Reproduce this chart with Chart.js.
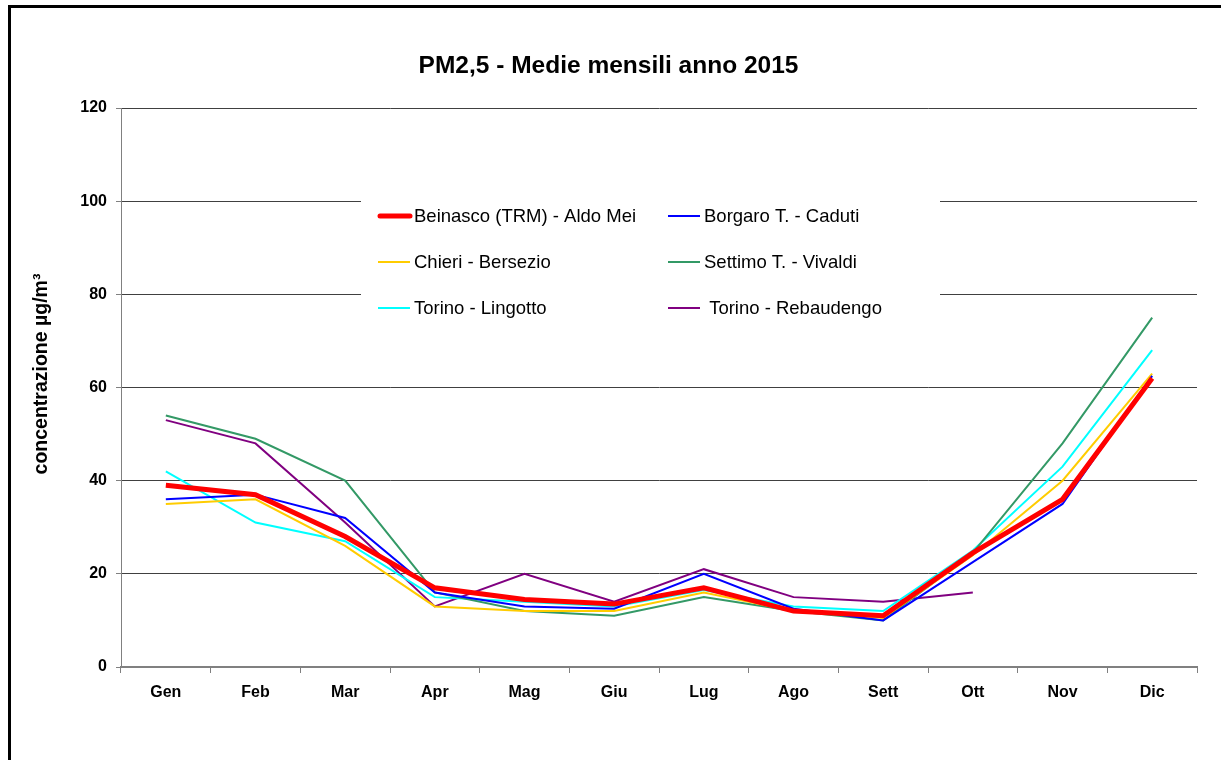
<!DOCTYPE html>
<html>
<head>
<meta charset="utf-8">
<script src="https://cdn.jsdelivr.net/npm/chart.js@4/dist/chart.umd.min.js"></script>
<style>
  html, body { margin: 0; padding: 0; background: #fff; overflow: hidden; }
  #frame { position: absolute; left: 8px; top: 5px; width: 1300px; height: 900px; border: 3px solid #000; }
  #lineChart { position: absolute; left: 0; top: 0; }
</style>
</head>
<body>
<div id="frame"></div>
<canvas id="lineChart" width="1221" height="760"></canvas>
<script>
const months = ['Gen', 'Feb', 'Mar', 'Apr', 'Mag', 'Giu', 'Lug', 'Ago', 'Sett', 'Ott', 'Nov', 'Dic'];

const beinasco   = [39, 37, 28, 17, 14.5, 13.5, 17, 12, 11, 24.5, 36, 62];
const borgaro    = [36, 37, 32, 16, 13, 12.5, 20, 12.5, 10, 22.5, 35, 62.5];
const chieri     = [35, 36, 26, 13, 12, 12, 16, 12, 10.5, 24, 40, 63];
const settimo    = [54, 49, 40, 16, 12, 11, 15, 12, 10, 24.5, 48, 75];
const lingotto   = [42, 31, 27, 15, 14, 13, 16.5, 13, 12, 25, 43, 68];
const rebaudengo = [53, 48, 31, 13, 20, 14, 21, 15, 14, 16, null, null];

const yTicks = [0, 20, 40, 60, 80, 100, 120];

const FONT = '"Liberation Sans", Arial, sans-serif';

// legend box drawn inside the plot, two columns like the original
const boxLegend = {
    id: 'boxLegend',
    afterDraw(chart) {
        const ctx = chart.ctx;
        ctx.save();
        ctx.fillStyle = '#fff';
        ctx.fillRect(361, 190, 579, 140);
        const colX = [378, 668];
        const rowY = [216, 262, 308];
        ctx.font = '18.5px ' + FONT;
        ctx.textBaseline = 'middle';
        chart.data.datasets.forEach((ds, i) => {
            const x = colX[i % 2];
            const y = rowY[Math.floor(i / 2)];
            ctx.strokeStyle = ds.borderColor;
            ctx.lineWidth = ds.borderWidth;
            ctx.lineCap = ds.borderWidth > 3 ? 'round' : 'butt';
            ctx.beginPath();
            ctx.moveTo(x + (ds.borderWidth > 3 ? 2 : 0), y);
            ctx.lineTo(x + 32, y);
            ctx.stroke();
            ctx.fillStyle = '#000';
            ctx.fillText(ds.label, x + 36, y + 1);
        });
        ctx.restore();
    }
};

// rotated y axis title
const yTitle = {
    id: 'yTitle',
    afterDraw(chart) {
        const ctx = chart.ctx;
        ctx.save();
        ctx.translate(42, 374);
        ctx.rotate(-Math.PI / 2);
        ctx.font = 'bold 19.5px ' + FONT;
        ctx.fillStyle = '#000';
        ctx.textAlign = 'center';
        ctx.textBaseline = 'middle';
        ctx.fillText('concentrazione µg/m³', 0, 0);
        ctx.restore();
    }
};

function makeSet(label, data, color, width) {
    return {
        label: label,
        data: data,
        borderColor: color,
        backgroundColor: color,
        borderWidth: width,
        pointRadius: 0,
        tension: 0,
        fill: false
    };
}

const ctx = document.getElementById('lineChart').getContext('2d');
const lineChart = new Chart(ctx, {
    type: 'line',
    data: {
        labels: months,
        datasets: [
            makeSet('Beinasco (TRM) - Aldo Mei', beinasco, '#ff0000', 5),
            makeSet('Borgaro T. - Caduti', borgaro, '#0000ff', 2),
            makeSet('Chieri - Bersezio', chieri, '#ffcc00', 2),
            makeSet('Settimo T. - Vivaldi', settimo, '#339966', 2),
            makeSet('Torino - Lingotto', lingotto, '#00ffff', 2),
            makeSet(' Torino - Rebaudengo', rebaudengo, '#800080', 2)
        ]
    },
    options: {
        responsive: false,
        animation: false,
        layout: { padding: { left: 20, right: 24, top: 0, bottom: 0 } },
        plugins: {
            legend: { display: false },
            tooltip: { enabled: false },
            title: {
                display: true,
                text: 'PM2,5 - Medie mensili anno 2015',
                color: '#000',
                font: { family: FONT, size: 24.5, weight: 'bold', lineHeight: 1.2 },
                padding: { top: 51.5, bottom: 27.1 }
            }
        },
        scales: {
            x: {
                offset: true,
                grid: {
                    offset: true,
                    drawOnChartArea: false,
                    drawTicks: true,
                    tickLength: 6,
                    tickColor: '#808080'
                },
                border: { color: '#808080', width: 2 },
                ticks: {
                    color: '#000',
                    padding: 10,
                    maxRotation: 0,
                    font: { family: FONT, size: 16, weight: 'bold' }
                },
                afterFit(scale) { scale.height = 93; }
            },
            y: {
                min: 0,
                max: 120,
                afterBuildTicks(scale) { scale.ticks = yTicks.map(v => ({ value: v })); },
                grid: {
                    color: '#404040',
                    lineWidth: 1,
                    tickLength: 5,
                    tickColor: '#808080'
                },
                border: { color: '#808080', width: 1 },
                ticks: {
                    color: '#000',
                    padding: 9,
                    font: { family: FONT, size: 16, weight: 'bold' }
                },
                afterFit(scale) { scale.width = 101; }
            }
        }
    },
    plugins: [boxLegend, yTitle]
});
</script>
</body>
</html>
